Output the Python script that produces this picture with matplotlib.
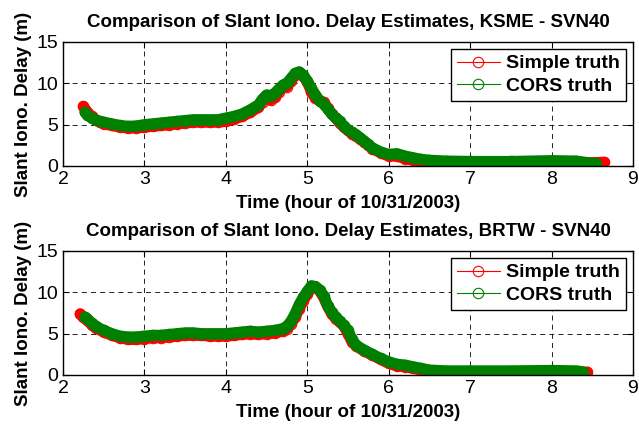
import numpy as np
import matplotlib
matplotlib.use('Agg')
import matplotlib.pyplot as plt

plt.rcParams['font.family'] = ['Liberation Sans', 'DejaVu Sans']

# KSME - SVN40
t_ksme_simple = [2.25, 2.3, 2.35, 2.4, 2.45, 2.5, 2.6, 2.7, 2.8, 2.9, 3.0, 3.1, 3.2, 3.3, 3.4, 3.5,
                 3.6, 3.7, 3.8, 3.9, 4.0, 4.1, 4.2, 4.3, 4.4, 4.45, 4.5, 4.55, 4.6, 4.65, 4.7, 4.75,
                 4.8, 4.85, 4.9, 4.95, 5.0, 5.05, 5.1, 5.15, 5.2, 5.25, 5.3, 5.35, 5.4, 5.45, 5.5,
                 5.55, 5.6, 5.65, 5.7, 5.75, 5.8, 5.9, 6.0, 6.1, 6.2, 6.3, 6.4, 6.5, 6.7, 7.0, 7.5,
                 8.0, 8.3, 8.5, 8.65]
v_ksme_simple = [7.2, 6.5, 6.0, 5.6, 5.3, 5.1, 4.9, 4.7, 4.6, 4.6, 4.7, 4.8, 4.9, 5.0, 5.1, 5.2,
                 5.3, 5.3, 5.3, 5.3, 5.4, 5.7, 6.0, 6.5, 7.1, 7.8, 8.3, 8.0, 8.3, 9.0, 9.5, 9.6,
                 10.3, 11.0, 11.3, 10.9, 10.2, 9.0, 8.2, 7.9, 7.7, 7.0, 6.3, 5.8, 5.2, 4.7, 4.3,
                 3.9, 3.6, 3.3, 2.9, 2.5, 2.1, 1.6, 1.2, 1.2, 0.9, 0.7, 0.5, 0.4, 0.4, 0.35, 0.3,
                 0.4, 0.4, 0.4, 0.45]
t_ksme_cors = [2.27, 2.3, 2.35, 2.4, 2.45, 2.5, 2.6, 2.7, 2.8, 2.9, 3.0, 3.1, 3.2, 3.3, 3.4, 3.5,
               3.6, 3.7, 3.8, 3.9, 4.0, 4.1, 4.2, 4.3, 4.4, 4.45, 4.5, 4.55, 4.6, 4.65, 4.7, 4.75,
               4.8, 4.85, 4.9, 4.95, 5.0, 5.05, 5.1, 5.15, 5.2, 5.25, 5.3, 5.35, 5.4, 5.45, 5.5,
               5.55, 5.6, 5.65, 5.7, 5.75, 5.8, 5.9, 6.0, 6.1, 6.2, 6.3, 6.4, 6.5, 6.7, 7.0, 7.5,
               8.0, 8.3, 8.45, 8.55]
v_ksme_cors = [6.5, 6.2, 5.8, 5.6, 5.4, 5.3, 5.1, 4.9, 4.8, 4.85, 5.0, 5.1, 5.2, 5.3, 5.4, 5.5,
               5.6, 5.6, 5.6, 5.6, 5.8, 6.0, 6.3, 6.8, 7.4, 8.1, 8.6, 8.5, 8.8, 9.3, 9.8, 10.0,
               10.6, 11.2, 11.4, 11.0, 10.3, 9.4, 8.6, 7.9, 7.5, 6.9, 6.3, 5.8, 5.4, 4.8, 4.4,
               4.1, 3.8, 3.4, 3.0, 2.6, 2.2, 1.7, 1.4, 1.5, 1.2, 1.0, 0.8, 0.7, 0.6, 0.55, 0.55,
               0.65, 0.6, 0.4, 0.3]

# BRTW - SVN40
t_brtw_simple = [2.21, 2.25, 2.3, 2.35, 2.4, 2.5, 2.6, 2.7, 2.8, 2.9, 3.0, 3.1, 3.2, 3.3, 3.4, 3.5,
                 3.6, 3.7, 3.8, 3.9, 4.0, 4.1, 4.2, 4.3, 4.4, 4.5, 4.6, 4.7, 4.75, 4.8, 4.85, 4.9,
                 4.95, 5.0, 5.05, 5.1, 5.15, 5.2, 5.25, 5.3, 5.35, 5.4, 5.45, 5.5, 5.55, 5.6, 5.7,
                 5.8, 5.9, 6.0, 6.1, 6.2, 6.3, 6.4, 6.5, 6.7, 7.0, 7.5, 8.0, 8.3, 8.44]
v_brtw_simple = [7.4, 7.0, 6.6, 6.1, 5.7, 5.2, 4.8, 4.5, 4.3, 4.3, 4.4, 4.5, 4.5, 4.6, 4.7, 4.8,
                 4.8, 4.8, 4.7, 4.7, 4.7, 4.8, 4.9, 5.0, 4.9, 5.0, 5.1, 5.3, 5.6, 6.2, 7.0, 8.0,
                 9.0, 9.8, 10.6, 10.7, 10.2, 9.4, 8.3, 7.4, 6.8, 6.4, 5.9, 5.0, 4.0, 3.5, 2.9,
                 2.4, 1.9, 1.4, 1.1, 1.0, 0.8, 0.6, 0.4, 0.3, 0.3, 0.25, 0.3, 0.3, 0.35]
t_brtw_cors = [2.27, 2.3, 2.35, 2.4, 2.5, 2.6, 2.7, 2.8, 2.9, 3.0, 3.1, 3.2, 3.3, 3.4, 3.5,
               3.6, 3.7, 3.8, 3.9, 4.0, 4.1, 4.2, 4.3, 4.4, 4.5, 4.6, 4.7, 4.75, 4.8, 4.85, 4.9,
               4.95, 5.0, 5.05, 5.1, 5.15, 5.2, 5.25, 5.3, 5.35, 5.4, 5.45, 5.5, 5.55, 5.6, 5.7,
               5.8, 5.9, 6.0, 6.1, 6.2, 6.3, 6.4, 6.5, 6.7, 7.0, 7.5, 8.0, 8.3, 8.38]
v_brtw_cors = [7.0, 6.8, 6.3, 5.9, 5.4, 5.0, 4.7, 4.6, 4.6, 4.7, 4.8, 4.8, 4.9, 5.0, 5.1,
               5.1, 5.0, 5.0, 5.0, 5.0, 5.1, 5.2, 5.3, 5.2, 5.3, 5.4, 5.6, 5.9, 6.5, 7.4, 8.5,
               9.4, 10.1, 10.8, 10.7, 10.3, 9.6, 8.4, 7.6, 7.0, 6.5, 6.0, 5.4, 4.3, 3.6, 3.0,
               2.5, 2.0, 1.6, 1.3, 1.2, 1.0, 0.8, 0.6, 0.5, 0.5, 0.5, 0.55, 0.5, 0.4]

panels = [
    ('KSME - SVN40', t_ksme_simple, v_ksme_simple, t_ksme_cors, v_ksme_cors, [0.0986, 0.6085, 0.892, 0.2925]),
    ('BRTW - SVN40', t_brtw_simple, v_brtw_simple, t_brtw_cors, v_brtw_cors, [0.0986, 0.1156, 0.892, 0.2925]),
]

red = '#ff0000'
green = '#008000'

fig = plt.figure(figsize=(6.39, 4.24), dpi=100)
for name, ts, vs, tc, vc, pos in panels:
    ax = fig.add_axes(pos)
    # thick band under the markers, like the dense samples in the original
    ax.plot(ts, vs, color=red, lw=8, solid_capstyle='round', solid_joinstyle='round')
    ax.plot(ts, vs, color=red, lw=0.8, marker='o', ms=7.5, mfc='none', mew=0.8, label='Simple truth')
    ax.plot(tc, vc, color=green, lw=8, solid_capstyle='round', solid_joinstyle='round')
    ax.plot(tc, vc, color=green, lw=0.8, marker='o', ms=7.5, mfc='none', mew=0.8, label='CORS truth')

    ax.set_xlim(2, 9)
    ax.set_ylim(0, 15)
    ax.set_xticks(range(2, 10))
    ax.set_yticks([0, 5, 10, 15])
    ax.grid(True, color='k', lw=0.6, ls=(0, (6, 5)))
    ax.tick_params(direction='in', top=True, right=True, length=4, labelsize=14)
    for sp in ax.spines.values():
        sp.set_linewidth(1.0)
    ax.set_title('Comparison of Slant Iono. Delay Estimates, ' + name,
                 fontsize=13.5, fontweight='bold', pad=11)
    ax.set_xlabel('Time (hour of 10/31/2003)', fontsize=13.5, fontweight='bold', labelpad=5.5)
    ax.set_ylabel('Slant Iono. Delay (m)', fontsize=13.5, fontweight='bold', labelpad=3)
    leg = ax.legend(loc='upper right', bbox_to_anchor=(0.988, 0.944), borderaxespad=0,
                    fancybox=False, edgecolor='k', framealpha=1,
                    prop={'weight': 'bold', 'size': 14}, handlelength=2.2,
                    borderpad=0.3, labelspacing=0.25, handletextpad=0.35)
    leg.get_frame().set_linewidth(1.0)

fig.savefig('out.png', dpi=100)
